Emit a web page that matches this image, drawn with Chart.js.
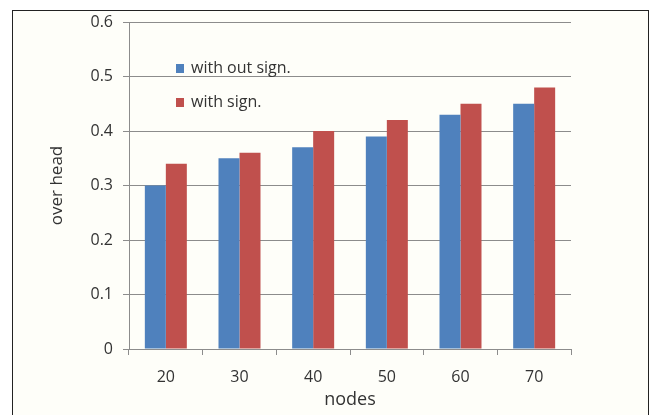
<!DOCTYPE html>
<html>
<head>
<meta charset="utf-8">
<script src="https://cdn.jsdelivr.net/npm/chart.js@4/dist/chart.umd.min.js"></script>
<style>
  html, body { margin: 0; padding: 0; background: #ffffff; }
  #wrap { position: relative; width: 654px; height: 415px; overflow: hidden; }
  #frame {
    position: absolute; left: 12px; top: 10px; width: 637px; height: 420px;
    border: 1px solid #222; background: #fefef9; box-sizing: border-box;
  }
  canvas { position: absolute; left: 0; top: 0; }
</style>
</head>
<body>
<div id="wrap">
  <div id="frame"></div>
  <canvas id="c" width="654" height="415"></canvas>
</div>
<script>
// Overhead per node count, with and without signatures
const nodes = ['20', '30', '40', '50', '60', '70'];
const withoutSign = [0.30, 0.35, 0.37, 0.39, 0.43, 0.45];
const withSign = [0.34, 0.36, 0.40, 0.42, 0.45, 0.48];
const seriesNames = ['with out sign.', 'with sign.'];
const seriesColors = ['#4f81bd', '#c0504d'];

const FONT = "'Open Sans', 'Liberation Sans', sans-serif";
const TEXT = '#333333';
const LINE = '#8c8c8c';

// Legend drawn inside the plot area, top-left
const innerLegend = {
  id: 'innerLegend',
  afterDatasetsDraw(chart) {
    const ctx = chart.ctx;
    const x0 = 176, rows = [68, 102];
    ctx.save();
    ctx.font = '16px ' + FONT;
    ctx.textBaseline = 'middle';
    ctx.textAlign = 'left';
    chart.data.datasets.forEach((ds, i) => {
      const y = rows[i];
      ctx.fillStyle = ds.backgroundColor;
      ctx.fillRect(x0, y - 4, 8, 9);
      ctx.fillStyle = TEXT;
      ctx.fillText(ds.label, x0 + 15, y);
    });
    ctx.restore();
  }
};

new Chart(document.getElementById('c'), {
  type: 'bar',
  data: {
    labels: nodes,
    datasets: [
      { label: seriesNames[0], data: withoutSign, backgroundColor: seriesColors[0] },
      { label: seriesNames[1], data: withSign, backgroundColor: seriesColors[1] }
    ]
  },
  options: {
    responsive: false,
    animation: false,
    devicePixelRatio: 1,
    layout: { padding: { left: 0, top: 22, right: 83, bottom: 0 } },
    datasets: { bar: { categoryPercentage: 0.57, barPercentage: 1.0 } },
    plugins: {
      legend: { display: false },
      tooltip: { enabled: false }
    },
    scales: {
      x: {
        grid: { drawOnChartArea: false, color: LINE, tickLength: 6, offset: true },
        border: { color: LINE },
        ticks: { color: TEXT, font: { family: FONT, size: 16 }, padding: 13 },
        title: { display: true, text: 'nodes', color: TEXT, font: { family: FONT, size: 18 }, padding: { top: 0, bottom: 4 } },
        afterFit(scale) { scale.height = 66; }
      },
      y: {
        min: 0, max: 0.6,
        ticks: { stepSize: 0.1, color: TEXT, font: { family: FONT, size: 16 }, padding: 10,
                 callback: v => (Math.round(v * 10) / 10).toString() },
        grid: { color: LINE, tickLength: 6 },
        border: { color: LINE },
        title: { display: true, text: 'over head', color: TEXT, font: { family: FONT, size: 17 }, padding: { top: 47, bottom: 0 } },
        afterFit(scale) { scale.width = 129; }
      }
    }
  },
  plugins: [innerLegend]
});
</script>
</body>
</html>
